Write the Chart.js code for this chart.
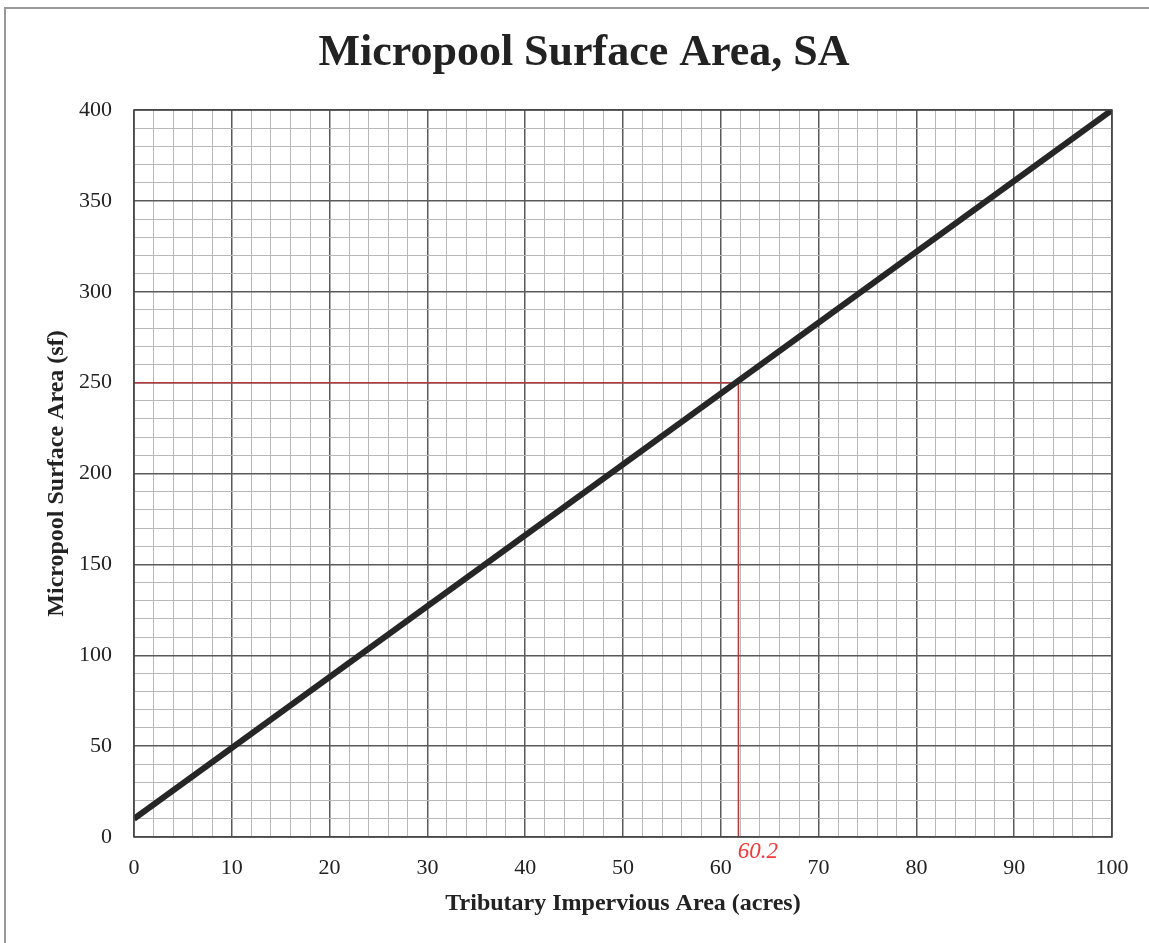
<!DOCTYPE html>
<html>
<head>
<meta charset="utf-8">
<script src="https://cdn.jsdelivr.net/npm/chart.js@4.4.1/dist/chart.umd.min.js"></script>
<style>
html,body{margin:0;padding:0;background:#fff;}
#wrap{width:1149px;height:943px;position:relative;}
</style>
</head>
<body>
<div id="wrap"><canvas id="c" width="1149" height="943"></canvas></div>
<script>
// ---- data ----
const chartTitle = "Micropool Surface Area, SA";
const xTitle = "Tributary Impervious Area (acres)";
const yTitle = "Micropool Surface Area (sf)";
const lineX = [0, 100];
const lineY = [10, 400];
const guideX = [0, 61.8, 61.8];
const guideY = [250, 250, 0];
const noteText = "60.2";
const noteX = 63.8;
const noteY = -8;

const serif = "'Liberation Serif', 'DejaVu Serif', serif";

const framePlugin = {
  id: 'frame',
  beforeDraw(chart) {
    const ctx = chart.ctx;
    ctx.save();
    ctx.fillStyle = '#fff';
    ctx.fillRect(0, 0, chart.width, chart.height);
    ctx.strokeStyle = '#999';
    ctx.lineWidth = 2;
    ctx.beginPath();
    ctx.moveTo(5, 943);
    ctx.lineTo(5, 8);
    ctx.lineTo(1149, 8);
    ctx.stroke();
    ctx.restore();
  },
  afterDraw(chart) {
    const ctx = chart.ctx;
    const xs = chart.scales.x, ys = chart.scales.y;
    ctx.save();
    // title
    ctx.fillStyle = '#222';
    ctx.font = "bold 44px " + serif;
    ctx.textAlign = 'center';
    ctx.textBaseline = 'middle';
    ctx.fillText(chartTitle, 584, 54);
    // handwritten note
    ctx.fillStyle = '#f03a3a';
    ctx.font = "italic 23px " + serif;
    ctx.fillText(noteText, xs.getPixelForValue(noteX), ys.getPixelForValue(noteY));
    // plot border
    const a = chart.chartArea;
    ctx.strokeStyle = '#444';
    ctx.lineWidth = 1.5;
    ctx.strokeRect(a.left, a.top, a.right - a.left, a.bottom - a.top);
    ctx.restore();
  }
};

new Chart(document.getElementById('c'), {
  type: 'scatter',
  data: {
    datasets: [
      {
        data: guideX.map((x, i) => ({x, y: guideY[i]})),
        showLine: true,
        borderColor: '#b23a3a',
        borderWidth: 1.5,
        pointRadius: 0,
        fill: false,
        order: 2
      },
      {
        data: lineX.map((x, i) => ({x, y: lineY[i]})),
        showLine: true,
        borderColor: '#262626',
        borderWidth: 6,
        pointRadius: 0,
        fill: false,
        order: 1
      }
    ]
  },
  options: {
    responsive: false,
    animation: false,
    layout: {padding: {left: 0, right: 37, top: 110, bottom: 0}},
    plugins: {legend: {display: false}, title: {display: false}, tooltip: {enabled: false}},
    scales: {
      x: {
        type: 'linear', min: 0, max: 100,
        border: {display: false},
        ticks: {
          stepSize: 2, autoSkip: false, maxRotation: 0, padding: 18,
          color: '#222', font: {family: serif, size: 22},
          callback: v => (v % 10 === 0 ? String(v) : '')
        },
        grid: {
          drawTicks: false,
          color: c => (c.tick && c.tick.value % 10 === 0 ? '#5a5a5a' : '#b8b8b8'),
          lineWidth: c => (c.tick && c.tick.value % 10 === 0 ? 1.5 : 1)
        },
        title: {display: true, text: xTitle, color: '#222', font: {family: serif, size: 24, weight: 'bold'}, padding: {top: 4, bottom: 25}},
        afterFit: s => { s.height = 106; }
      },
      y: {
        type: 'linear', min: 0, max: 400,
        border: {display: false},
        ticks: {
          stepSize: 10, autoSkip: false, padding: 22,
          color: '#222', font: {family: serif, size: 22},
          callback: v => (v % 50 === 0 ? String(v) : '')
        },
        grid: {
          drawTicks: false,
          color: c => (c.tick && c.tick.value % 50 === 0 ? '#5a5a5a' : '#b8b8b8'),
          lineWidth: c => (c.tick && c.tick.value % 50 === 0 ? 1.5 : 1)
        },
        title: {display: true, text: yTitle, color: '#222', font: {family: serif, size: 24, weight: 'bold'}, padding: {top: 42, bottom: 4}},
        afterFit: s => { s.width = 134; }
      }
    }
  },
  plugins: [framePlugin]
});
</script>
</body>
</html>
